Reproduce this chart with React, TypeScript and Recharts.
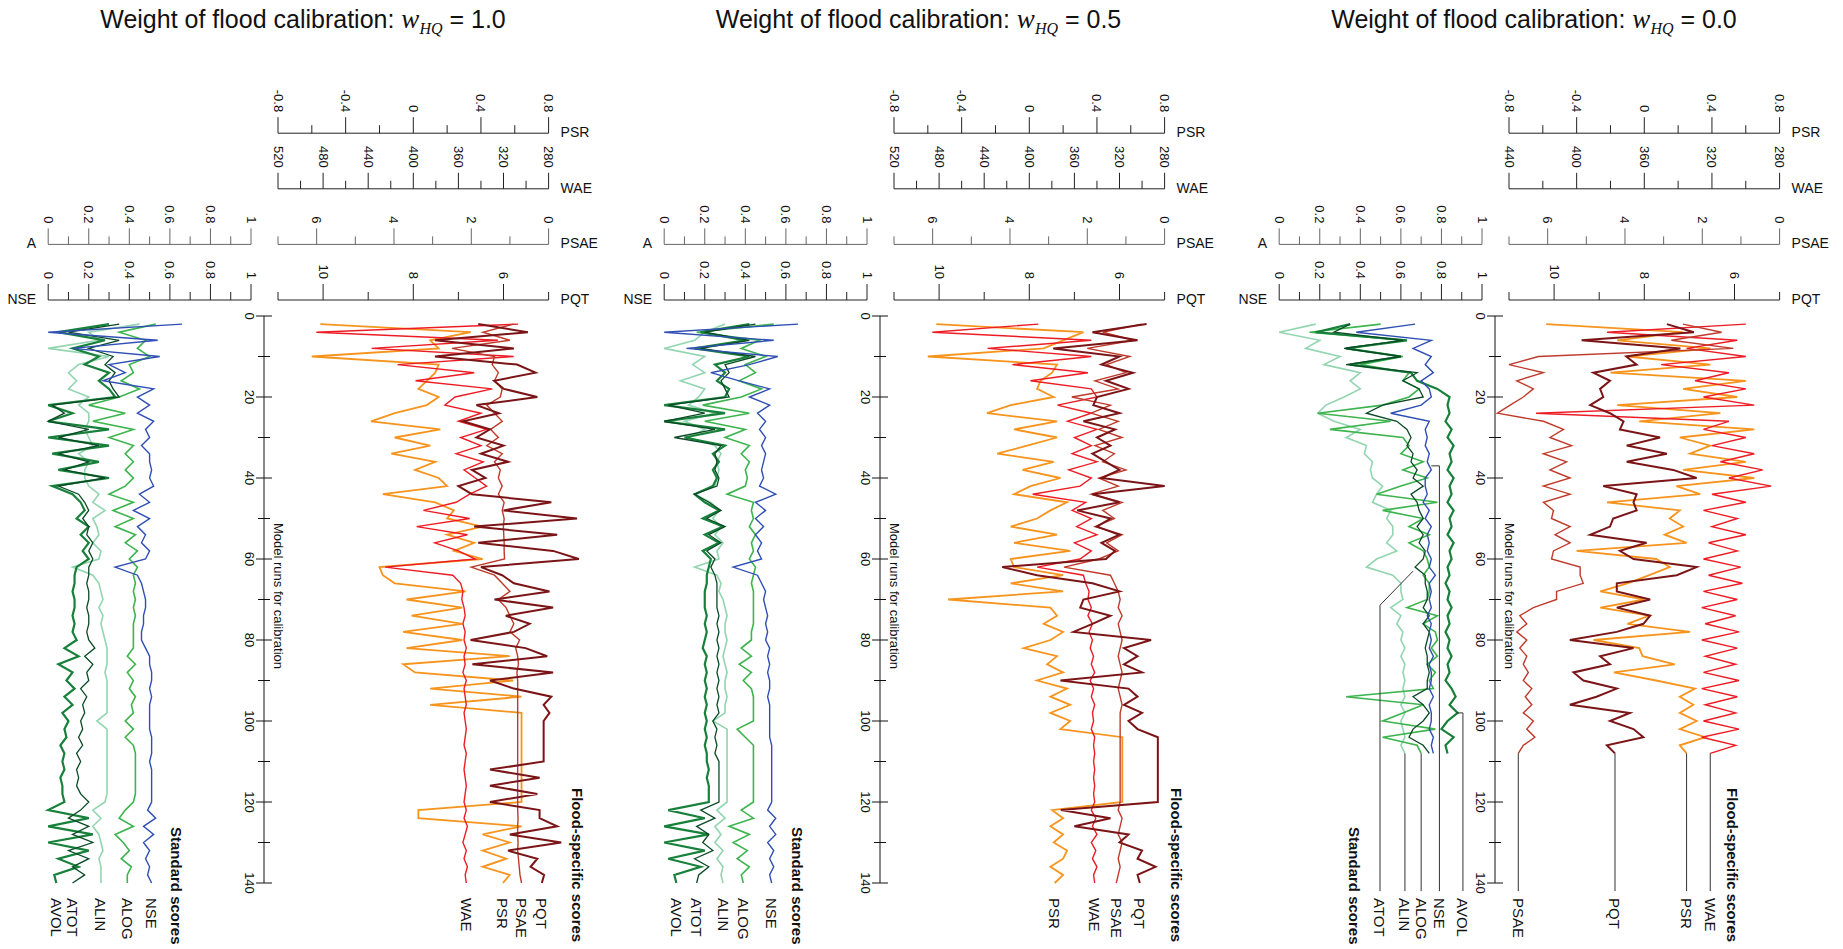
import React from 'react';
import { LineChart, Line, XAxis, YAxis, ReferenceLine, ReferenceDot } from 'recharts';

const FONT = '"Liberation Sans", Arial, Helvetica, sans-serif';
const SERIF = '"Liberation Serif", "Times New Roman", serif';

// ---------- categories / ticks ----------
const RUNS_140 = Array.from({ length: 70 }, (_, i) => 2 + 2 * i);
const RUNS_108 = Array.from({ length: 54 }, (_, i) => 2 + 2 * i);
const RUN_TICKS = [0, 10, 20, 30, 40, 50, 60, 70, 80, 90, 100, 110, 120, 130, 140];

const A_TICKS = [0, 0.1, 0.2, 0.3, 0.4, 0.5, 0.6, 0.7, 0.8, 0.9, 1];
const A_LABELS = [0, 0.2, 0.4, 0.6, 0.8, 1];
const PSR_TICKS = [-0.8, -0.6, -0.4, -0.2, 0, 0.2, 0.4, 0.6, 0.8];
const PSR_LABELS = [-0.8, -0.4, 0, 0.4, 0.8];
const WAE_TICKS_WIDE = [280, 300, 320, 340, 360, 380, 400, 420, 440, 460, 480, 500, 520];
const WAE_LABELS_WIDE = [280, 320, 360, 400, 440, 480, 520];
const WAE_TICKS_NARROW = [280, 300, 320, 340, 360, 380, 400, 420, 440];
const WAE_LABELS_NARROW = [280, 320, 360, 400, 440];
const PSAE_TICKS = [0, 1, 2, 3, 4, 5, 6, 7];
const PSAE_LABELS = [0, 2, 4, 6];
const PQT_TICKS = [5, 6, 7, 8, 9, 10, 11];
const PQT_LABELS = [6, 8, 10];

// ---------- panel 1 (w = 1.0) ----------
const P1_NSE = [0.66, 0.0, 0.54, 0.12, 0.55, 0.3, 0.38, 0.27, 0.52, 0.44,
  0.5, 0.44, 0.52, 0.48, 0.5, 0.46, 0.5, 0.5, 0.51, 0.5,
  0.52, 0.45, 0.5, 0.42, 0.5, 0.44, 0.48, 0.46, 0.5, 0.48,
  0.33, 0.44, 0.46, 0.47, 0.48, 0.48, 0.47, 0.47, 0.46, 0.46,
  0.48, 0.5, 0.5, 0.51, 0.51, 0.5, 0.51, 0.5, 0.5, 0.5,
  0.5, 0.51, 0.51, 0.51, 0.5, 0.51, 0.51, 0.51, 0.51, 0.51,
  0.49, 0.53, 0.47, 0.52, 0.47, 0.5, 0.48, 0.5, 0.49, 0.51];
const P1_ALOG = [0.53, 0.35, 0.48, 0.44, 0.5, 0.4, 0.42, 0.36, 0.45, 0.35,
  0.2, 0.38, 0.22, 0.42, 0.3, 0.42, 0.38, 0.42, 0.38, 0.42,
  0.38, 0.3, 0.42, 0.32, 0.42, 0.33, 0.43, 0.38, 0.44, 0.4,
  0.44, 0.42, 0.43, 0.42, 0.43, 0.42, 0.43, 0.42, 0.42, 0.42,
  0.42, 0.39, 0.43, 0.39, 0.42, 0.4, 0.43, 0.41, 0.42, 0.38,
  0.42, 0.38, 0.42, 0.43, 0.43, 0.43, 0.43, 0.43, 0.43, 0.42,
  0.38, 0.35, 0.42, 0.33, 0.37, 0.4, 0.36, 0.41, 0.39, 0.39];
const P1_ALIN = [0.45, 0.2, 0.25, 0.0, 0.3, 0.15, 0.1, 0.14, 0.1, 0.2,
  0.15, 0.2, 0.2, 0.18, 0.2, 0.22, 0.15, 0.2, 0.18, 0.18,
  0.2, 0.25, 0.22, 0.28, 0.22, 0.24, 0.25, 0.22, 0.26, 0.25,
  0.12, 0.22, 0.25, 0.26, 0.27, 0.25, 0.27, 0.26, 0.27, 0.28,
  0.29, 0.29, 0.29, 0.28, 0.29, 0.29, 0.29, 0.29, 0.29, 0.24,
  0.29, 0.29, 0.29, 0.29, 0.29, 0.29, 0.29, 0.29, 0.29, 0.28,
  0.22, 0.26, 0.22, 0.25, 0.26, 0.27, 0.25, 0.26, 0.26, 0.26];
const P1_ATOT = [0.35, 0.1, 0.35, 0.2, 0.32, 0.28, 0.33, 0.3, 0.32, 0.35,
  0.02, 0.08, 0.0, 0.2, 0.05, 0.25, 0.05, 0.2, 0.08, 0.28,
  0.05, 0.15, 0.18, 0.2, 0.17, 0.2, 0.19, 0.22, 0.2, 0.22,
  0.2, 0.2, 0.19, 0.2, 0.2, 0.19, 0.2, 0.2, 0.19, 0.2,
  0.23, 0.18, 0.22, 0.19, 0.2, 0.16, 0.19, 0.17, 0.18, 0.16,
  0.17, 0.15, 0.17, 0.14, 0.16, 0.14, 0.15, 0.14, 0.16, 0.2,
  0.16, 0.1, 0.2, 0.12, 0.22, 0.1, 0.2, 0.12, 0.18, 0.12];
const P1_AVOL = [0.3, 0.05, 0.28, 0.12, 0.25, 0.18, 0.3, 0.25, 0.3, 0.33,
  0.0, 0.12, 0.0, 0.3, 0.0, 0.3, 0.02, 0.25, 0.05, 0.3,
  0.02, 0.12, 0.16, 0.18, 0.14, 0.2, 0.16, 0.2, 0.17, 0.2,
  0.14, 0.13, 0.13, 0.12, 0.13, 0.13, 0.12, 0.13, 0.12, 0.14,
  0.08, 0.15, 0.05, 0.12, 0.09, 0.13, 0.08, 0.12, 0.07, 0.1,
  0.08, 0.09, 0.06, 0.08, 0.07, 0.08, 0.06, 0.07, 0.07, 0.08,
  0.0, 0.2, 0.0, 0.22, 0.0, 0.2, 0.05, 0.15, 0.03, 0.04];
const P1_PQT = [6.56, 5.46, 7.52, 5.77, 7.52, 5.7, 5.29, 6.21, 5.99, 5.25,
  6.6, 6.1, 6.9, 6.3, 6.6, 6.0, 6.5, 5.9, 6.7, 6.4,
  7.0, 6.7, 4.94, 6.0, 4.37, 6.65, 4.81, 6.56, 4.9, 4.33,
  6.5, 6.03, 5.77, 4.98, 6.2, 4.9, 5.95, 5.42, 5.77, 6.73,
  5.51, 5.03, 6.69, 4.9, 6.3, 5.77, 4.94, 5.11, 4.98, 5.11,
  5.11, 5.11, 5.11, 5.11, 5.11, 6.3, 5.2, 6.3, 5.25, 6.3,
  5.2, 5.2, 4.81, 5.86, 4.72, 5.9, 5.25, 5.4, 5.1, 5.15];
const P1_PSAE = [0.9, 1.7, 1.0, 2.5, 1.4, 1.46, 1.3, 1.4, 1.2, 1.25,
  1.6, 1.4, 1.2, 1.5, 1.3, 1.6, 1.2, 1.4, 1.25, 1.3,
  1.2, 1.3, 1.15, 1.2, 1.15, 1.17, 1.16, 1.15, 1.15, 1.14,
  2.0, 1.4, 1.2, 1.0, 1.3, 1.1, 1.0, 0.9, 1.0, 0.75,
  0.85, 0.8, 0.78, 0.82, 0.8, 0.8, 0.8, 0.8, 0.8, 0.8,
  0.8, 0.8, 0.8, 0.8, 0.8, 0.8, 0.8, 0.8, 0.8, 0.8,
  0.8, 0.79, 0.8, 0.8, 0.79, 0.8, 0.78, 0.76, 0.74, 0.7];
const P1_WAE = [307, 486, 325, 437, 311, 414, 346, 398, 330, 363,
  372, 340, 360, 335, 358, 340, 362, 338, 355, 345,
  335, 350, 362, 391, 350, 397, 352, 381, 360, 345,
  425, 365, 358, 356, 357, 355, 354, 356, 354, 355,
  353, 355, 354, 356, 353, 355, 354, 353, 355, 354,
  353, 354, 355, 353, 354, 355, 354, 353, 354, 355,
  353, 355, 352, 354, 356, 353, 355, 352, 354, 353];
const P1_PSR = [-0.55, 0.34, 0.1, 0.15, -0.6, 0.15, 0.13, 0.08, 0.03, 0.15,
  0.08, -0.11, -0.25, 0.16, -0.11, 0.1, -0.13, 0.13, 0.01, 0.15,
  0.2, -0.18, 0.13, 0.24, 0.2, 0.41, 0.2, 0.36, 0.24, 0.41,
  -0.2, -0.18, -0.11, 0.31, -0.04, 0.29, -0.01, 0.29, -0.06, 0.29,
  -0.04, 0.57, -0.06, 0.01, 0.59, 0.1, 0.64, 0.1, 0.64, 0.64,
  0.64, 0.64, 0.64, 0.64, 0.64, 0.64, 0.64, 0.64, 0.64, 0.64,
  0.03, 0.03, 0.64, 0.41, 0.57, 0.41, 0.55, 0.41, 0.57, 0.53];

// ---------- panel 2 (w = 0.5) ----------
const P2_NSE = [0.66, 0.0, 0.54, 0.11, 0.56, 0.42, 0.23, 0.37, 0.52, 0.42,
  0.52, 0.46, 0.5, 0.47, 0.5, 0.48, 0.5, 0.49, 0.48, 0.49,
  0.47, 0.55, 0.45, 0.5, 0.45, 0.49, 0.45, 0.48, 0.46, 0.48,
  0.34, 0.46, 0.48, 0.5, 0.49, 0.5, 0.51, 0.5, 0.51, 0.5,
  0.52, 0.51, 0.52, 0.51, 0.52, 0.52, 0.51, 0.52, 0.52, 0.52,
  0.52, 0.52, 0.53, 0.53, 0.53, 0.53, 0.53, 0.53, 0.53, 0.53,
  0.51, 0.55, 0.52, 0.55, 0.51, 0.54, 0.52, 0.54, 0.52, 0.53];
const P2_ALOG = [0.54, 0.16, 0.47, 0.38, 0.5, 0.4, 0.45, 0.37, 0.48, 0.38,
  0.19, 0.42, 0.2, 0.4, 0.3, 0.42, 0.38, 0.42, 0.4, 0.41,
  0.4, 0.31, 0.44, 0.43, 0.44, 0.42, 0.45, 0.43, 0.44, 0.42,
  0.45, 0.44, 0.43, 0.44, 0.44, 0.44, 0.44, 0.44, 0.43, 0.43,
  0.38, 0.43, 0.37, 0.43, 0.39, 0.43, 0.44, 0.44, 0.44, 0.44,
  0.36, 0.4, 0.44, 0.44, 0.44, 0.44, 0.44, 0.44, 0.44, 0.44,
  0.38, 0.44, 0.32, 0.42, 0.34, 0.41, 0.36, 0.42, 0.38, 0.39];
const P2_ALIN = [0.3, 0.2, 0.15, 0.0, 0.2, 0.14, 0.2, 0.08, 0.2, 0.17,
  0.12, 0.25, 0.1, 0.2, 0.12, 0.25, 0.28, 0.26, 0.27, 0.26,
  0.25, 0.15, 0.23, 0.27, 0.24, 0.28, 0.25, 0.29, 0.26, 0.27,
  0.15, 0.26, 0.28, 0.27, 0.29, 0.3, 0.31, 0.3, 0.3, 0.31,
  0.3, 0.29, 0.3, 0.31, 0.3, 0.3, 0.31, 0.3, 0.3, 0.24,
  0.31, 0.31, 0.31, 0.31, 0.31, 0.31, 0.31, 0.31, 0.31, 0.31,
  0.26, 0.3, 0.25, 0.28, 0.25, 0.29, 0.26, 0.29, 0.28, 0.29];
const P2_ATOT = [0.45, 0.2, 0.42, 0.18, 0.45, 0.3, 0.32, 0.28, 0.3, 0.32,
  0.02, 0.2, 0.0, 0.25, 0.05, 0.28, 0.25, 0.26, 0.25, 0.27,
  0.26, 0.15, 0.22, 0.28, 0.21, 0.3, 0.22, 0.28, 0.21, 0.25,
  0.23, 0.25, 0.26, 0.26, 0.26, 0.26, 0.27, 0.26, 0.27, 0.26,
  0.27, 0.26, 0.27, 0.26, 0.27, 0.26, 0.27, 0.26, 0.27, 0.24,
  0.26, 0.25, 0.26, 0.25, 0.27, 0.27, 0.27, 0.27, 0.27, 0.27,
  0.18, 0.25, 0.16, 0.22, 0.19, 0.24, 0.15, 0.22, 0.17, 0.16];
const P2_AVOL = [0.42, 0.18, 0.4, 0.15, 0.42, 0.25, 0.3, 0.26, 0.32, 0.3,
  0.0, 0.3, 0.0, 0.3, 0.1, 0.3, 0.24, 0.27, 0.24, 0.26,
  0.24, 0.15, 0.2, 0.27, 0.19, 0.29, 0.2, 0.27, 0.19, 0.23,
  0.22, 0.21, 0.21, 0.2, 0.2, 0.2, 0.21, 0.2, 0.21, 0.2,
  0.19, 0.21, 0.2, 0.21, 0.2, 0.21, 0.2, 0.21, 0.2, 0.21,
  0.2, 0.21, 0.2, 0.21, 0.21, 0.22, 0.21, 0.22, 0.22, 0.22,
  0.02, 0.2, 0.0, 0.22, 0.0, 0.2, 0.02, 0.18, 0.05, 0.06];
const P2_PQT = [5.4, 6.6, 5.6, 7.47, 6.0, 6.4, 5.7, 6.3, 5.8, 6.5,
  6.58, 6.0, 6.8, 6.1, 6.5, 6.2, 6.6, 6.3, 6.0, 6.4,
  5.0, 6.6, 6.0, 6.94, 6.2, 6.5, 6.0, 6.4, 6.1, 6.3,
  8.6, 7.83, 6.6, 6.0, 6.8, 6.87, 6.2, 6.6, 7.02, 5.3,
  5.9, 5.6, 5.9, 5.5, 7.31, 5.8, 5.6, 5.9, 5.5, 5.8,
  5.6, 5.15, 5.15, 5.15, 5.15, 5.15, 5.15, 5.15, 5.15, 5.15,
  7.3, 6.2, 7.0, 5.8, 6.0, 5.5, 5.6, 5.2, 5.6, 5.55];
const P2_PSAE = [0.6, 1.6, 0.8, 2.0, 0.9, 1.5, 1.0, 1.8, 1.2, 2.4,
  1.4, 1.9, 1.2, 1.7, 1.1, 1.8, 1.3, 1.6, 1.0, 1.7,
  1.2, 1.9, 1.1, 1.6, 1.3, 1.8, 1.1, 1.5, 1.2, 1.7,
  2.6, 1.4, 1.3, 1.2, 1.15, 1.2, 1.1, 1.2, 1.15, 1.1,
  1.15, 1.2, 1.15, 1.1, 1.15, 1.2, 1.15, 1.1, 1.15, 1.15,
  1.15, 1.15, 1.15, 1.15, 1.15, 1.15, 1.15, 1.15, 1.15, 1.15,
  1.2, 1.1, 1.15, 1.2, 1.1, 1.15, 1.2, 1.15, 1.2, 1.25];
const P2_WAE = [392, 486, 345, 437, 345, 415, 348, 399, 345, 340,
  375, 345, 366, 340, 360, 345, 362, 340, 365, 345,
  355, 397, 350, 362, 345, 358, 340, 360, 345, 355,
  393, 352, 350, 347, 348, 345, 348, 344, 347, 344,
  346, 343, 345, 342, 346, 343, 345, 342, 344, 343,
  345, 342, 343, 342, 343, 342, 343, 342, 343, 342,
  345, 341, 344, 340, 345, 341, 344, 340, 343, 342];
const P2_PSR = [-0.55, 0.32, 0.2, 0.085, -0.6, 0.164, 0.135, 0.066, 0.046, 0.144,
  -0.11, -0.25, 0.164, -0.09, 0.164, -0.013, -0.19, 0.144, -0.04, 0.184,
  0.007, -0.09, 0.223, 0.125, 0.046, -0.11, 0.164, -0.09, 0.242, -0.11,
  -0.09, 0.2, -0.11, 0.2, -0.48, 0.125, 0.164, 0.085, 0.2, 0.125,
  -0.033, 0.164, 0.105, 0.2, 0.046, 0.223, 0.125, 0.242, 0.125, 0.242,
  0.184, 0.55, 0.55, 0.55, 0.55, 0.55, 0.55, 0.55, 0.55, 0.55,
  0.135, 0.2, 0.125, 0.2, 0.144, 0.223, 0.2, 0.125, 0.2, 0.15];

// ---------- panel 3 (w = 0.0) ----------
const P3_NSE = [0.67, 0.38, 0.75, 0.66, 0.75, 0.72, 0.76, 0.7, 0.74, 0.75,
  0.7, 0.55, 0.74, 0.72, 0.73, 0.72, 0.74, 0.73, 0.75, 0.72,
  0.72, 0.73, 0.71, 0.74, 0.72, 0.75, 0.73, 0.74, 0.73, 0.75,
  0.74, 0.77, 0.74, 0.75, 0.74, 0.75, 0.73, 0.75, 0.74, 0.75,
  0.74, 0.76, 0.74, 0.75, 0.75, 0.74, 0.76, 0.74, 0.75, 0.75,
  0.74, 0.76, 0.75, 0.76];
const P3_ALOG = [0.5, 0.15, 0.62, 0.33, 0.61, 0.4, 0.64, 0.61, 0.69, 0.64,
  0.51, 0.19, 0.55, 0.25, 0.61, 0.64, 0.6, 0.71, 0.61, 0.73,
  0.6, 0.48, 0.78, 0.51, 0.71, 0.64, 0.74, 0.64, 0.71, 0.73,
  0.74, 0.71, 0.74, 0.74, 0.73, 0.63, 0.78, 0.71, 0.77, 0.78,
  0.75, 0.78, 0.73, 0.77, 0.74, 0.76, 0.33, 0.71, 0.61, 0.51,
  0.77, 0.51, 0.68, 0.7];
const P3_ALIN = [0.18, 0.0, 0.2, 0.13, 0.3, 0.22, 0.4, 0.35, 0.4, 0.32,
  0.23, 0.19, 0.27, 0.4, 0.33, 0.43, 0.42, 0.46, 0.45, 0.46,
  0.51, 0.48, 0.46, 0.55, 0.53, 0.56, 0.56, 0.53, 0.58, 0.48,
  0.43, 0.56, 0.6, 0.6, 0.61, 0.55, 0.6, 0.58, 0.61, 0.6,
  0.62, 0.6, 0.62, 0.61, 0.62, 0.61, 0.62, 0.6, 0.62, 0.6,
  0.61, 0.62, 0.6, 0.62];
const P3_ATOT = [0.35, 0.27, 0.61, 0.32, 0.6, 0.33, 0.68, 0.61, 0.69, 0.71,
  0.51, 0.43, 0.58, 0.63, 0.65, 0.63, 0.66, 0.65, 0.68, 0.66,
  0.71, 0.65, 0.68, 0.69, 0.71, 0.68, 0.71, 0.69, 0.72, 0.71,
  0.67, 0.72, 0.72, 0.73, 0.73, 0.71, 0.74, 0.71, 0.74, 0.73,
  0.72, 0.73, 0.73, 0.74, 0.73, 0.73, 0.66, 0.71, 0.74, 0.71,
  0.66, 0.64, 0.71, 0.74];
const P3_AVOL = [0.35, 0.18, 0.63, 0.33, 0.6, 0.35, 0.65, 0.68, 0.78, 0.84,
  0.83, 0.84, 0.82, 0.85, 0.83, 0.86, 0.84, 0.85, 0.83, 0.86,
  0.84, 0.85, 0.83, 0.86, 0.84, 0.85, 0.83, 0.86, 0.84, 0.85,
  0.83, 0.84, 0.82, 0.84, 0.83, 0.85, 0.83, 0.84, 0.82, 0.84,
  0.83, 0.85, 0.83, 0.84, 0.82, 0.85, 0.87, 0.84, 0.88, 0.83,
  0.8, 0.86, 0.82, 0.83];
const P3_PQT = [7.5, 6.9, 9.39, 7.2, 8.4, 8.17, 9.13, 8.76, 8.98, 8.91,
  9.2, 8.76, 8.46, 8.54, 7.65, 8.39, 7.5, 8.39, 7.36, 6.84,
  8.91, 8.17, 8.24, 8.17, 8.69, 8.76, 9.2, 7.95, 8.54, 8.24,
  6.84, 7.28, 8.61, 8.61, 7.87, 8.61, 7.87, 8.02, 8.61, 9.65,
  8.24, 8.98, 8.76, 9.57, 9.35, 8.61, 9.06, 9.65, 8.32, 8.76,
  8.24, 8.02, 8.83, 8.65];
const P3_PSAE = [2.5, 1.5, 2.8, 1.2, 6.24, 7.0, 6.11, 6.8, 6.37, 6.63,
  6.97, 7.3, 6.11, 5.59, 5.94, 5.38, 6.11, 5.51, 5.94, 5.42,
  6.11, 5.42, 6.11, 5.85, 5.9, 5.42, 5.81, 5.42, 5.85, 5.9,
  5.16, 5.16, 5.08, 5.77, 5.77, 6.37, 6.72, 6.54, 6.8, 6.54,
  6.72, 6.54, 6.63, 6.5, 6.63, 6.41, 6.58, 6.41, 6.63, 6.37,
  6.54, 6.33, 6.63, 6.76];
const P3_WAE = [300, 382, 305, 335, 300, 350, 310, 330, 300, 325,
  295, 424, 310, 325, 300, 320, 295, 315, 290, 310,
  285, 320, 300, 325, 305, 320, 300, 322, 305, 325,
  303, 322, 302, 325, 305, 326, 306, 324, 304, 326,
  305, 324, 306, 325, 304, 326, 305, 324, 306, 325,
  304, 326, 306, 321];
const P3_PSR = [-0.58, 0.23, -0.16, 0.39, -0.1, 0.39, -0.2, 0.6, 0.23, 0.55,
  -0.16, 0.45, -0.03, 0.65, 0.21, 0.39, 0.27, 0.6, 0.23, 0.65,
  0.19, 0.33, -0.22, 0.21, 0.15, 0.23, 0.12, 0.25, -0.4, 0.07,
  0.15, 0.03, -0.1, -0.26, 0.0, -0.26, 0.03, -0.1, 0.27, -0.3,
  -0.03, -0.01, 0.18, -0.18, 0.07, 0.3, 0.21, 0.29, 0.21, 0.31,
  0.21, 0.36, 0.21, 0.25];

// leader lines for panel 3 labels: [value, run] vertices
const P3_LEADERS = {
  NSE: [[0.75, 37], [0.79, 37], [0.79, 142]],
  ATOT: [[0.66, 63], [0.497, 71.4], [0.497, 142]],
  AVOL: [[0.875, 98], [0.906, 98], [0.906, 142]],
  ALOG: [[0.7, 108], [0.7, 142]],
  ALIN: [[0.62, 108], [0.62, 142]],
  PSAE: [[6.76, 108], [6.76, 142]],
  PQT: [[8.65, 108], [8.65, 142]],
  PSR: [[0.25, 108], [0.25, 142]],
  WAE: [[321, 108], [321, 142]],
};

// ---------- series styling (axis ids sort nearest-to-plot first) ----------
const STD_SERIES = [
  { key: 'ALIN', color: '#93d5b0', width: 1.6, axis: 'ax2' },
  { key: 'ALOG', color: '#3db44e', width: 1.6, axis: 'ax2' },
  { key: 'AVOL', color: '#17803a', width: 2.2, axis: 'ax2' },
  { key: 'ATOT', color: '#0b4a26', width: 1.3, axis: 'ax2' },
  { key: 'NSE', color: '#2f4fb4', width: 1.4, axis: 'ax1' },
];
const FLOOD_SERIES = [
  { key: 'PSR', color: '#f7941d', width: 1.8, axis: 'ax4' },
  { key: 'WAE', color: '#ed1c24', width: 1.4, axis: 'ax3' },
  { key: 'PSAE', color: '#bf3a2b', width: 1.4, axis: 'ax2' },
  { key: 'PQT', color: '#7b1416', width: 2, axis: 'ax1' },
];

const PANELS = [
  {
    x: 0, weight: '1.0', runs: RUNS_140,
    std: { NSE: P1_NSE, ALOG: P1_ALOG, ALIN: P1_ALIN, ATOT: P1_ATOT, AVOL: P1_AVOL },
    flood: { PQT: P1_PQT, PSAE: P1_PSAE, WAE: P1_WAE, PSR: P1_PSR },
    waeDomain: [280, 520], waeTicks: WAE_TICKS_WIDE, waeLabels: WAE_LABELS_WIDE,
    leaders: null, stdTitleX: 176, floodTitleX: 577,
  },
  {
    x: 615.5, weight: '0.5', runs: RUNS_140,
    std: { NSE: P2_NSE, ALOG: P2_ALOG, ALIN: P2_ALIN, ATOT: P2_ATOT, AVOL: P2_AVOL },
    flood: { PQT: P2_PQT, PSAE: P2_PSAE, WAE: P2_WAE, PSR: P2_PSR },
    waeDomain: [280, 520], waeTicks: WAE_TICKS_WIDE, waeLabels: WAE_LABELS_WIDE,
    leaders: null, stdTitleX: 181, floodTitleX: 560,
  },
  {
    x: 1231, weight: '0.0', runs: RUNS_108,
    std: { NSE: P3_NSE, ALOG: P3_ALOG, ALIN: P3_ALIN, ATOT: P3_ATOT, AVOL: P3_AVOL },
    flood: { PQT: P3_PQT, PSAE: P3_PSAE, WAE: P3_WAE, PSR: P3_PSR },
    waeDomain: [280, 440], waeTicks: WAE_TICKS_NARROW, waeLabels: WAE_LABELS_NARROW,
    leaders: P3_LEADERS, stdTitleX: 123, floodTitleX: 501,
  },
];

// ---------- geometry ----------
const H = 949;
const AXIS_H = 55.6;
const BOTTOM = 66;
const RUN_PAD = 16;

function TopTick(props: any) {
  const { x, y, payload, labels, color } = props;
  const v = payload ? payload.value : 0;
  const major = labels.some((l: number) => Math.abs(l - v) < 1e-6);
  const len = major ? 16 : 8;
  const ty = y - len - 5;
  return (
    <g>
      <line x1={x} x2={x} y1={y} y2={y - len} stroke={color} strokeWidth={1} />
      {major ? (
        <text x={x} y={ty} transform={`rotate(90 ${x} ${ty})`} textAnchor="end" dominantBaseline="central"
          fontFamily={FONT} fontSize={13} fill="#111">{String(v)}</text>
      ) : null}
    </g>
  );
}

const axisName = (name: string, side: string) => (props: any) => {
  const vb = props.viewBox || {};
  const ly = (vb.y || 0) + (vb.height || 0) - 1;
  const lx = side === 'left' ? (vb.x || 0) - 12 : (vb.x || 0) + (vb.width || 0) + 12;
  return (
    <text x={lx} y={ly} textAnchor={side === 'left' ? 'end' : 'start'} dominantBaseline="central"
      fontFamily={FONT} fontSize={14} fill="#111">{name}</text>
  );
};

function topAxis(id: string, domain: number[], ticks: number[], labels: number[], reversed: boolean,
  name: string, side: string, color: string) {
  return (
    <XAxis key={id} xAxisId={id} type="number" orientation="top" domain={domain} ticks={ticks} interval={0}
      reversed={reversed} allowDataOverflow height={AXIS_H} tickSize={0} tickMargin={0} tickLine={false}
      axisLine={{ stroke: color, strokeWidth: 1 }}
      tick={(tp: any) => <TopTick {...tp} labels={labels} color={color} />}
      label={axisName(name, side)} />
  );
}

const bottomLabel = (text: string) => (props: any) => {
  const vb = props.viewBox || {};
  const x = (vb.x || 0) + (vb.width || 0) / 2;
  const y = (vb.y || 0) + (vb.height || 0) / 2 + 15;
  return (
    <text x={x} y={y} transform={`rotate(90 ${x} ${y})`} textAnchor="start" dominantBaseline="central"
      fontFamily={FONT} fontSize={15} fill="#111">{text}</text>
  );
};

function RunTick(props: any) {
  const { x, y, payload } = props;
  const v = payload ? payload.value : 0;
  const major = v % 20 === 0;
  const half = major ? 8 : 6;
  const lx = x - 15;
  return (
    <g>
      <line x1={x - half} x2={x + half} y1={y} y2={y} stroke="#111" strokeWidth={1} />
      {major ? (
        <text x={lx} y={y} transform={`rotate(90 ${lx} ${y})`} textAnchor="middle" dominantBaseline="central"
          fontFamily={FONT} fontSize={13} fill="#111">{v}</text>
      ) : null}
    </g>
  );
}

function buildRows(runs: number[], series: any) {
  return runs.map((run, i) => {
    const r: any = { run };
    Object.keys(series).forEach((k) => { r[k] = series[k][i]; });
    return r;
  });
}

function seriesDecor(p: any, s: any, values: number[]) {
  const out: any[] = [];
  const leaders = p.leaders ? p.leaders[s.key] : null;
  let labelX = values[values.length - 1];
  if (leaders) {
    for (let i = 0; i < leaders.length - 1; i++) {
      out.push(
        <ReferenceLine key={`ld-${s.key}-${i}`} xAxisId={s.axis} ifOverflow="visible"
          segment={[{ x: leaders[i][0], y: leaders[i][1] }, { x: leaders[i + 1][0], y: leaders[i + 1][1] }]}
          stroke="#333" strokeWidth={1} />
      );
    }
    labelX = leaders[leaders.length - 1][0];
  }
  out.push(
    <ReferenceDot key={`lb-${s.key}`} xAxisId={s.axis} x={labelX} y={140} r={0} ifOverflow="visible"
      fill="none" stroke="none" label={bottomLabel(s.key)} />
  );
  return out;
}

function Panel({ p }: any) {
  const ox = p.x;
  const stdRows = buildRows(p.runs, p.std);
  const floodRows = buildRows(p.runs, p.flood);
  const runRows = [{ run: 0, v: 0 }, { run: 140, v: 0 }];
  const yAxisHidden = (
    <YAxis type="number" dataKey="run" domain={[0, 140]} hide padding={{ top: RUN_PAD, bottom: 0 }} />
  );
  return (
    <>
      <div style={{
        position: 'absolute', left: ox, top: 4, width: 606, textAlign: 'center', fontFamily: FONT,
        fontSize: 25, lineHeight: '30px', whiteSpace: 'nowrap', color: '#111',
      }}>
        Weight of flood calibration:{' '}
        <span style={{ fontFamily: SERIF, fontStyle: 'italic', fontSize: 27 }}>w</span>
        <span style={{ fontFamily: SERIF, fontStyle: 'italic', fontSize: 16, position: 'relative', top: 6 }}>HQ</span>
        {' '}= {p.weight}
      </div>

      <div style={{ position: 'absolute', left: ox, top: 0 }}>
        <LineChart layout="vertical" width={262} height={H} data={stdRows}
          margin={{ top: 300 - 2 * AXIS_H, left: 48.2, right: 262 - 251, bottom: BOTTOM }}>
          {topAxis('ax1', [0, 1], A_TICKS, A_LABELS, false, 'NSE', 'left', '#222')}
          {topAxis('ax2', [0, 1], A_TICKS, A_LABELS, false, 'A', 'left', '#666')}
          {yAxisHidden}
          {STD_SERIES.map((s) => (
            <Line key={s.key} type="linear" dataKey={s.key} xAxisId={s.axis} stroke={s.color}
              strokeWidth={s.width} dot={false} activeDot={false} isAnimationActive={false} />
          ))}
          {STD_SERIES.map((s) => seriesDecor(p, s, p.std[s.key]))}
        </LineChart>
      </div>

      <div style={{ position: 'absolute', left: ox + 262, top: 0 }}>
        <LineChart layout="vertical" width={353} height={H} data={floodRows}
          margin={{ top: 300 - 4 * AXIS_H, left: 16, right: 353 - 16 - 270.6, bottom: BOTTOM }}>
          {topAxis('ax1', [5, 11], PQT_TICKS, PQT_LABELS, true, 'PQT', 'right', '#222')}
          {topAxis('ax2', [0, 7], PSAE_TICKS, PSAE_LABELS, true, 'PSAE', 'right', '#666')}
          {topAxis('ax3', p.waeDomain, p.waeTicks, p.waeLabels, true, 'WAE', 'right', '#222')}
          {topAxis('ax4', [-0.8, 0.8], PSR_TICKS, PSR_LABELS, false, 'PSR', 'right', '#222')}
          {yAxisHidden}
          {FLOOD_SERIES.map((s) => (
            <Line key={s.key} type="linear" dataKey={s.key} xAxisId={s.axis} stroke={s.color}
              strokeWidth={s.width} dot={false} activeDot={false} isAnimationActive={false} />
          ))}
          {FLOOD_SERIES.map((s) => seriesDecor(p, s, p.flood[s.key]))}
        </LineChart>
      </div>

      <div style={{ position: 'absolute', left: ox + 213, top: 0 }}>
        <LineChart layout="vertical" width={80} height={H} data={runRows}
          margin={{ top: 300, left: 50, right: 10, bottom: BOTTOM }}>
          <XAxis xAxisId="h" type="number" domain={[0, 1]} hide />
          <YAxis type="number" dataKey="run" domain={[0, 140]} ticks={RUN_TICKS} interval={0} width={1}
            padding={{ top: RUN_PAD, bottom: 0 }} axisLine={false} tickLine={false} tickSize={0} tickMargin={0}
            tick={(tp: any) => <RunTick {...tp} />}
            label={(lp: any) => {
              const vb = lp.viewBox || {};
              const lx = (vb.x || 50) + (vb.width || 0) + 14;
              const ly = 596;
              return (
                <text x={lx} y={ly} transform={`rotate(90 ${lx} ${ly})`} textAnchor="middle"
                  dominantBaseline="central" fontFamily={FONT} fontSize={13} fill="#111">
                  Model runs for calibration
                </text>
              );
            }} />
          <Line dataKey="v" xAxisId="h" stroke="none" dot={false} activeDot={false} isAnimationActive={false} />
          <ReferenceLine xAxisId="h" segment={[{ x: 0, y: 0 }, { x: 0, y: 140 }]} stroke="#111" strokeWidth={1} />
        </LineChart>
      </div>

      <div style={{
        position: 'absolute', left: ox + p.stdTitleX - 9, top: 827, writingMode: 'vertical-rl',
        fontFamily: FONT, fontWeight: 'bold', fontSize: 15, lineHeight: '18px', whiteSpace: 'nowrap', color: '#111',
      }}>Standard scores</div>
      <div style={{
        position: 'absolute', left: ox + p.floodTitleX - 9, top: 788, writingMode: 'vertical-rl',
        fontFamily: FONT, fontWeight: 'bold', fontSize: 15, lineHeight: '18px', whiteSpace: 'nowrap', color: '#111',
      }}>Flood-specific scores</div>
    </>
  );
}

export default function App() {
  return (
    <div style={{ position: 'absolute', left: 0, top: 0, width: 1843, height: 949, background: '#fff', overflow: 'hidden' }}>
      <style>{'.recharts-wrapper svg [clip-path]{clip-path:none !important;} .recharts-wrapper svg{overflow:visible;}'}</style>
      {PANELS.map((p, i) => <Panel key={i} p={p} />)}
    </div>
  );
}
